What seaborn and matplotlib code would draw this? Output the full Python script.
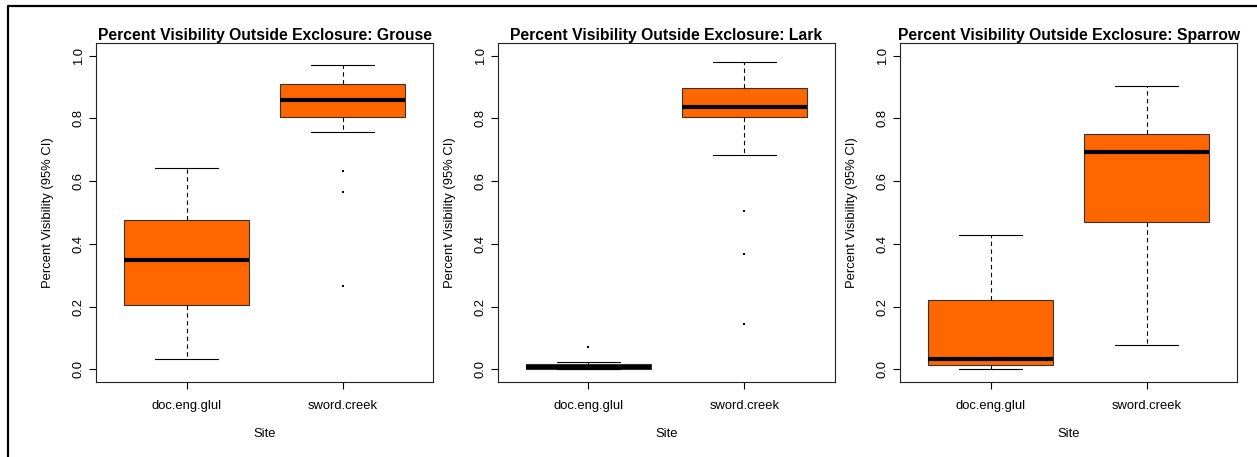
import matplotlib
matplotlib.use("Agg")
import matplotlib.pyplot as plt
from matplotlib.lines import Line2D
import seaborn as sns
import pandas as pd

# ---- data (hand-read sample values per site, per species) ----
sites = ["doc.eng.glul", "sword.creek"]
species = ["Grouse", "Lark", "Sparrow"]

grouse_doc = [0.034, 0.12, 0.205, 0.28, 0.349, 0.41, 0.476, 0.56, 0.643]
grouse_sword = [0.266, 0.564, 0.633, 0.755, 0.805, 0.82, 0.835, 0.848, 0.860,
                0.872, 0.885, 0.898, 0.910, 0.925, 0.94, 0.955, 0.969]
lark_doc = [0.0, 0.0, 0.0, 0.004, 0.009, 0.012, 0.016, 0.023, 0.072]
lark_sword = [0.146, 0.369, 0.505, 0.682, 0.805, 0.812, 0.82, 0.829, 0.837,
              0.852, 0.868, 0.883, 0.898, 0.92, 0.94, 0.96, 0.981]
sparrow_doc = [0.0, 0.008, 0.015, 0.024, 0.032, 0.12, 0.220, 0.33, 0.427]
sparrow_sword = [0.078, 0.3, 0.469, 0.6, 0.693, 0.72, 0.751, 0.83, 0.902]

yticks = [0.0, 0.2, 0.4, 0.6, 0.8, 1.0]
ytick_labels = ["0.0", "0.2", "0.4", "0.6", "0.8", "1.0"]

groups = {
    "Grouse": (grouse_doc, grouse_sword),
    "Lark": (lark_doc, lark_sword),
    "Sparrow": (sparrow_doc, sparrow_sword),
}

box_color = "#FF6600"

plt.rcParams["font.family"] = ["Liberation Sans", "DejaVu Sans"]

W, H = 1257, 457
fig = plt.figure(figsize=(W / 100, H / 100), dpi=100)

lefts = [96, 497.7, 900]
ax_w = 337.3
ax_top, ax_bot = 43, 382
fs = 9.4

for sp, left in zip(species, lefts):
    doc_vals, sword_vals = groups[sp]
    df = pd.DataFrame({
        "Site": [sites[0]] * len(doc_vals) + [sites[1]] * len(sword_vals),
        "Visibility": list(doc_vals) + list(sword_vals),
    })
    ax = fig.add_axes([left / W, 1 - ax_bot / H, ax_w / W, (ax_bot - ax_top) / H])
    sns.boxplot(
        data=df, x="Site", y="Visibility", order=sites, ax=ax,
        color=box_color, saturation=1, width=0.8, whis=1.5,
        linecolor="black", linewidth=0.8,
        medianprops={"linewidth": 3.0, "color": "black", "solid_capstyle": "butt"},
        whiskerprops={"linestyle": (0, (4, 3)), "linewidth": 0.8},
        capprops={"linewidth": 0.8},
        boxprops={"linewidth": 0.8, "edgecolor": "#333333"},
        flierprops={"marker": "s", "markersize": 2, "markerfacecolor": "black",
                    "markeredgewidth": 0},
    )
    ax.set_xlim(-0.58, 1.58)
    ax.set_ylim(-0.04, 1.04)
    ax.set_yticks(yticks)
    ax.set_yticklabels(ytick_labels, rotation=90, va="center")
    ax.set_xticks([0, 1])
    ax.set_xticklabels(sites)
    ax.tick_params(direction="out", length=5, width=0.8, labelsize=fs,
                   colors="black")
    ax.tick_params(axis="y", pad=3)
    ax.tick_params(axis="x", pad=8)
    for s in ax.spines.values():
        s.set_visible(True)
        s.set_linewidth(0.8)
        s.set_color("#222222")
    ax.grid(False)
    ax.set_facecolor("white")
    ax.set_xlabel("Site", fontsize=fs)
    ax.set_ylabel("Percent Visibility (95% CI)", fontsize=fs)
    ax.xaxis.label.set_va("center")
    ax.yaxis.label.set_va("center")
    ax.xaxis.set_label_coords(0.5, -0.153)
    ax.yaxis.set_label_coords(-0.142, 0.5)
    ax.set_title(f"Percent Visibility Outside Exclosure: {sp}",
                 fontsize=11.3, fontweight="bold", pad=1.5)

# outer frame (left and top edges visible)
fig.add_artist(Line2D([8 / W, 8 / W, 1], [0, 1 - 6 / H, 1 - 6 / H],
                      transform=fig.transFigure, color="black", linewidth=1.6))

fig.savefig("out.png", dpi=100, facecolor="white")
